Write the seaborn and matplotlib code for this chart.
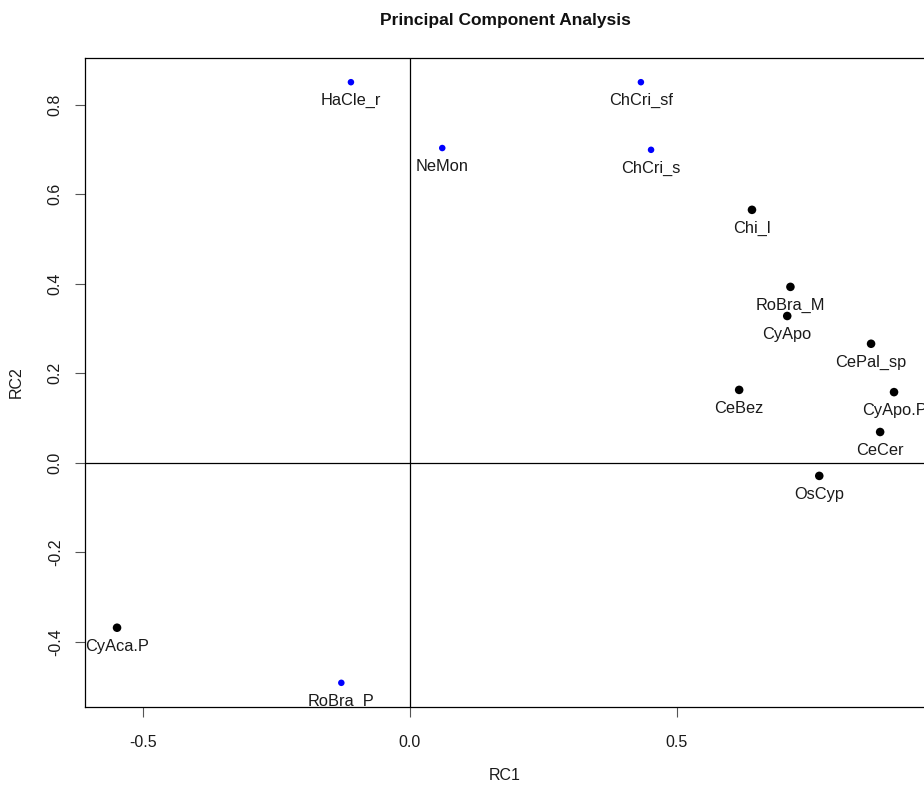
import matplotlib
matplotlib.use("Agg")
import matplotlib.pyplot as plt
import seaborn as sns
import pandas as pd

# PCA scores (RC1, RC2) per taxon
labels = ["HaCle_r", "NeMon", "ChCri_sf", "ChCri_s", "Chi_l", "RoBra_M", "CyApo",
          "CePal_sp", "CeBez", "CyApo.P", "CeCer", "OsCyp", "CyAca.P", "RoBra_P"]
rc1 = [-0.110, 0.061, 0.433, 0.452, 0.641, 0.713, 0.707,
       0.864, 0.617, 0.907, 0.881, 0.767, -0.548, -0.128]
rc2 = [0.850, 0.703, 0.850, 0.699, 0.565, 0.393, 0.328,
       0.266, 0.163, 0.158, 0.069, -0.029, -0.368, -0.491]
group = ["blue", "blue", "blue", "blue", "black", "black", "black",
         "black", "black", "black", "black", "black", "black", "blue"]

df = pd.DataFrame({"RC1": rc1, "RC2": rc2, "label": labels, "group": group})

sns.set_theme(style="white")
plt.rcParams["font.family"] = ["Liberation Sans", "DejaVu Sans"]

fig = plt.figure(figsize=(9.24, 7.85), dpi=100)
ax = fig.add_axes([85 / 924, 1 - 707 / 785, 840 / 924, 649 / 785])

sns.scatterplot(data=df, x="RC1", y="RC2", hue="group", size="group",
                palette={"blue": "#0000ff", "black": "#000000"},
                sizes={"blue": 22, "black": 38}, edgecolor="none",
                legend=False, ax=ax, zorder=3)

# point labels, clipped to the plotting region
for x, y, t in zip(rc1, rc2, labels):
    txt = ax.annotate(t, (x, y), xytext=(0, -8), textcoords="offset points",
                      ha="center", va="top", fontsize=11.8, color="#1a1a1a")
    txt.set_clip_path(ax.patch)
    txt.set_clip_on(True)

ax.axhline(0, color="black", lw=0.9, zorder=1)
ax.axvline(0, color="black", lw=0.9, zorder=1)

ax.set_xlim(-0.608, 0.965)
ax.set_ylim(-0.545, 0.904)
ax.set_xticks([-0.5, 0.0, 0.5])
ax.set_xticklabels(["-0.5", "0.0", "0.5"])
ax.set_yticks([-0.4, -0.2, 0.0, 0.2, 0.4, 0.6, 0.8])
ax.set_yticklabels(["-0.4", "-0.2", "0.0", "0.2", "0.4", "0.6", "0.8"],
                   rotation=90, va="center")

for s in ax.spines.values():
    s.set_visible(True)
    s.set_color("black")
    s.set_linewidth(0.9)
    s.set_zorder(4)

ax.tick_params(axis="both", which="both", direction="out", length=7, width=0.8,
               color="#555555", labelsize=11.5, labelcolor="#1a1a1a", pad=13,
               bottom=True, left=True, top=False, right=False)
ax.tick_params(axis="y", pad=9)

ax.set_xlabel("RC1", fontsize=11.5, color="#1a1a1a", labelpad=13)
ax.set_ylabel("RC2", fontsize=11.5, color="#1a1a1a", labelpad=17)
ax.set_title("Principal Component Analysis", fontsize=12.5, fontweight="bold",
             color="#111111", pad=24)

fig.savefig("out.png", dpi=100, facecolor="white")
